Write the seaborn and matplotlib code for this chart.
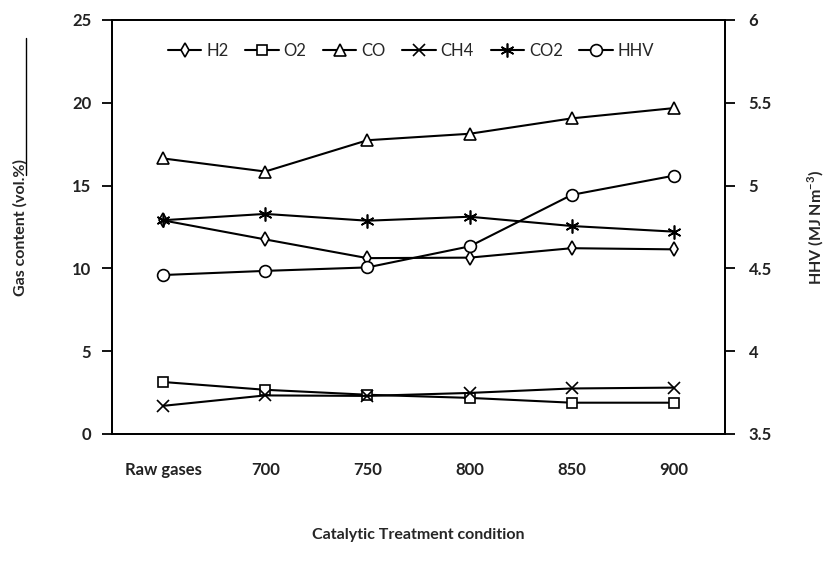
import numpy as np
import pandas as pd
import matplotlib
matplotlib.use("Agg")
import matplotlib.pyplot as plt
import seaborn as sns
from matplotlib.lines import Line2D

categories = ["Raw gases", "700", "750", "800", "850", "900"]
h2 = [12.9, 11.75, 10.62, 10.65, 11.22, 11.15]
o2 = [3.14, 2.67, 2.37, 2.18, 1.89, 1.89]
co = [16.64, 15.85, 17.74, 18.13, 19.06, 19.68]
ch4 = [1.70, 2.33, 2.30, 2.48, 2.75, 2.80]
co2 = [12.91, 13.29, 12.88, 13.12, 12.56, 12.22]
hhv = [4.46, 4.485, 4.506, 4.633, 4.944, 5.06]

left_ticks = [0, 5, 10, 15, 20, 25]
right_ticks = [3.5, 4, 4.5, 5, 5.5, 6]
right_tick_labels = ["3.5", "4", "4.5", "5", "5.5", "6"]

sns.set_style("white")
plt.rcParams["font.family"] = ["Lato", "DejaVu Sans"]

W, H = 837, 566
fig = plt.figure(figsize=(W / 100, H / 100), dpi=100)
ax = fig.add_axes([112 / W, 1 - 434 / H, (725 - 112) / W, (434 - 20) / H])
ax2 = ax.twinx()

x = np.arange(len(categories))
common = dict(color="black", linewidth=1.5, markerfacecolor="white",
              markeredgecolor="black", markeredgewidth=1.2)

series = [
    ("H2", h2, "d", 7),
    ("O2", o2, "s", 7),
    ("CO", co, "^", 8),
    ("CH4", ch4, "x", 8),
    ("CO2", co2, (6, 2, 0), 10),
]
for name, vals, mk, ms in series:
    sns.lineplot(x=x, y=vals, ax=ax, marker=mk, markersize=ms, label=name,
                 legend=False, **common)
sns.lineplot(x=x, y=hhv, ax=ax2, marker="o", markersize=8.5, label="HHV",
             legend=False, **common)

ax.set_xlim(-0.5, len(categories) - 0.5)
ax.set_ylim(0, 25)
ax2.set_ylim(3.5, 6)
ax.set_yticks(left_ticks)
ax.set_yticklabels([str(t) for t in left_ticks])
ax2.set_yticks(right_ticks)
ax2.set_yticklabels(right_tick_labels)

# x ticks at category boundaries, labels at category centres
ax.set_xticks(np.arange(-0.5, len(categories), 1.0))
ax.set_xticklabels([])
ax.set_xticks(x, minor=True)
ax.set_xticklabels(categories, minor=True)
ax.tick_params(axis="x", which="minor", length=0, pad=20)
ax.tick_params(axis="x", which="major", direction="out", length=7, width=1.3, color="black")
ax.tick_params(axis="y", direction="out", length=7, width=1.3, color="black", pad=8)
ax2.tick_params(axis="y", direction="out", length=7, width=1.3, color="black", pad=10)

for a in (ax, ax2):
    for s in a.spines.values():
        s.set_color("black")
        s.set_linewidth(1.3)
        s.set_visible(True)

for lbl in ax.get_xticklabels(minor=True) + ax.get_yticklabels() + ax2.get_yticklabels():
    lbl.set_fontweight("bold")
    lbl.set_fontsize(12)
    lbl.set_color("#222222")

ax.set_ylabel("Gas content (vol.%)", fontsize=11.5, fontweight="bold", labelpad=32)
ax2.set_ylabel("HHV (MJ Nm$^{\\mathregular{-3}}$)", fontsize=11.5, fontweight="bold",
               labelpad=24, rotation=90)
ax.set_xlabel("Catalytic Treatment condition", fontsize=11.5, fontweight="bold", labelpad=36)

h1, l1 = ax.get_legend_handles_labels()
h2_, l2 = ax2.get_legend_handles_labels()
ax.legend(h1 + h2_, l1 + l2, loc="center", bbox_to_anchor=(0.488, 0.925), ncol=6,
          frameon=False, fontsize=12, handlelength=2.0, handletextpad=0.3,
          columnspacing=1.0)

# stray scan line at left edge
fig.add_artist(Line2D([26 / W, 26 / W], [1 - 38 / H, 1 - 175 / H], color="black", linewidth=1.0))

fig.savefig("out.png", dpi=100)
